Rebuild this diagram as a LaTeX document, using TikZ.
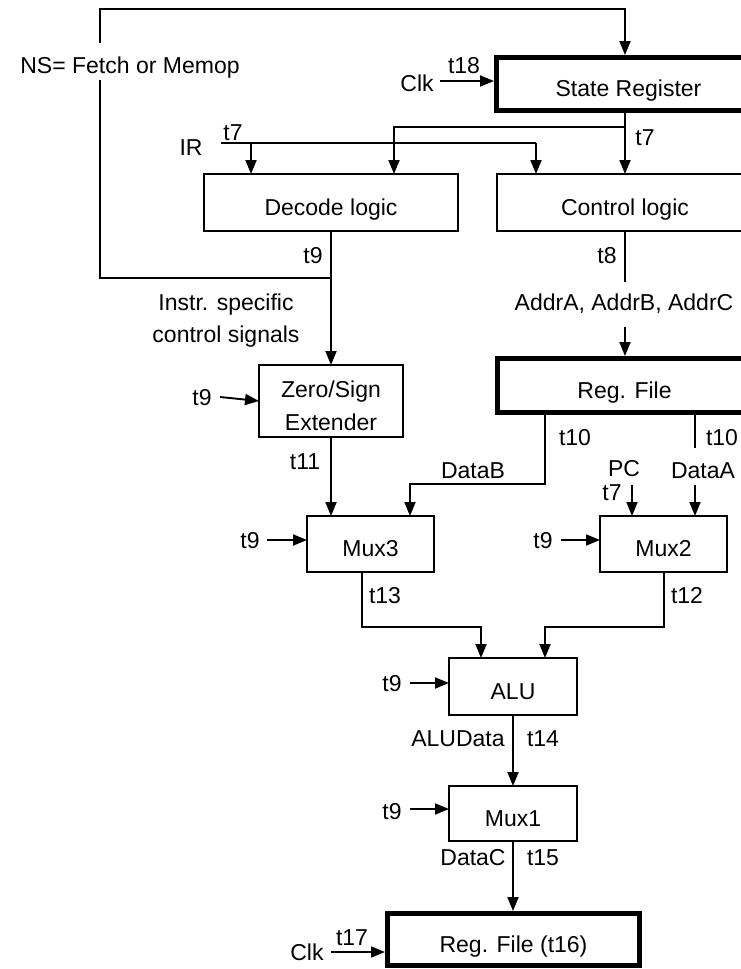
\documentclass[tikz,border=0pt]{standalone}
\usepackage{fontspec}
\setmainfont{Liberation Sans}
\usetikzlibrary{arrows.meta}
\begin{document}
\begin{tikzpicture}[x=1pt,y=-1pt,
  every node/.style={font=\fontsize{23}{28}\selectfont, inner sep=0pt, outer sep=0pt},
  lbl/.style={anchor=base},
  wire/.style={line width=1.9pt},
  sig/.style={wire, -{Triangle[length=14pt,width=11pt]}},
  blk/.style={draw, line width=1.9pt, text height=25pt, text depth=0pt},
  reg/.style={blk, line width=5pt}]
\useasboundingbox (0,0) rectangle (741,969);
\clip (0,0) rectangle (741,969);

% functional blocks
\node[reg, minimum width=264pt, minimum height=53pt] (sr)   at (628.5,84)    {State Register};
\node[blk, minimum width=254pt, minimum height=57pt] (dec)  at (331,202.5)   {Decode logic};
\node[blk, minimum width=256pt, minimum height=57pt] (ctl)  at (625,202.5)   {Control logic};
\node[blk, minimum width=144pt, minimum height=72pt] (zs)   at (331,401)     {};
\node[lbl] (zs1) at (331,397) {Zero/Sign};
\node[lbl] (zs2) at (331,430) {Extender};
\node[reg, minimum width=254pt, minimum height=54pt] (rf)   at (624.5,385.5) {Reg. File};
\node[blk, minimum width=127pt, minimum height=56pt] (mux3) at (370.5,544)   {Mux3};
\node[blk, minimum width=127pt, minimum height=56pt] (mux2) at (663.5,544)   {Mux2};
\node[blk, minimum width=128pt, minimum height=57pt] (alu)  at (513,686.5)   {ALU};
\node[blk, minimum width=128pt, minimum height=55pt] (mux1) at (513,813.5)   {Mux1};
\node[reg, minimum width=252pt, minimum height=52pt] (rf2)  at (513.5,939.5) {Reg. File (t16)};

% routing points
\coordinate (lpB) at (100,278);
\coordinate (lpT) at (100,9);
\coordinate (lpR) at (625,9);
\coordinate (irL) at (221,143);
\coordinate (irD) at (251,143);
\coordinate (irC) at (536,143);
\coordinate (brD) at (394,127);
\coordinate (adT) at (625,282);
\coordinate (adB) at (625,327);
\coordinate (rfB) at (545,484);
\coordinate (dbB) at (410,484);
\coordinate (daT) at (695,448);
\coordinate (daA) at (695,485);
\coordinate (pcA) at (632,485);
\coordinate (m3o) at (362,627);
\coordinate (m3a) at (481,627);
\coordinate (m2o) at (664,627);
\coordinate (m2a) at (545,627);
\coordinate (ck1) at (440,81);
\coordinate (ck2) at (331,952);
\coordinate (s9z) at (220,397);
\coordinate (s93) at (267,540);
\coordinate (s92) at (561,540);
\coordinate (s9a) at (410,683);
\coordinate (s91) at (410,809);

% next-state feedback loop
\draw[sig, shorten >=2.5pt] (dec.south |- lpB) -- (lpB) -- (lpT) -- (lpR) -- (lpR |- sr.north);
\node[lbl, fill=white, text height=30pt, text depth=7pt] (ns) at (130,73) {NS= Fetch or Memop};

% clocks
\draw[sig, shorten >=2.5pt] (ck1) -- (ck1 -| sr.west);
\node[lbl] (clk1) at (417,91) {Clk};
\node[lbl] (t18) at (464,73) {t18};
\draw[sig, shorten >=2.5pt] (ck2) -- (ck2 -| rf2.west);
\node[lbl] (clk2) at (307,960) {Clk};
\node[lbl] (t17) at (352,945) {t17};

% IR and state distribution
\draw[wire] (irL) -- (irC);
\draw[sig] (irD) -- (irD |- dec.north);
\draw[sig] (irC) -- (irC |- ctl.north);
\node[lbl] (ir) at (191,155) {IR};
\node[lbl] (t7a) at (233,140) {t7};
\draw[sig] (ctl.north |- sr.south) -- (ctl.north);
\draw[sig] (ctl.north |- brD) -- (brD) -- (brD |- dec.north);
\node[lbl] (t7b) at (645,145) {t7};

% decode path
\draw[sig] (dec.south) -- (zs.north);
\node[lbl] (t9d) at (313,263) {t9};
\node[lbl] (is1) at (226,310) {Instr. specific};
\node[lbl] (is2) at (226,342) {control signals};
\draw[sig] (s9z) -- (zs.west);
\node[lbl] (t9zs) at (202,405) {t9};

% control path to register file
\draw[wire] (ctl.south) -- (adT);
\draw[sig, shorten >=2.5pt] (adB) -- (adB |- rf.north);
\node[lbl] (t8) at (607,263) {t8};
\node[lbl] (addr) at (624,310) {AddrA, AddrB, AddrC};

% register file outputs
\draw[sig] (rfB |- rf.south) -- (rfB) -- (dbB) -- (dbB |- mux3.north);
\node[lbl] (t10a) at (575,445) {t10};
\node[lbl] (datab) at (473,478) {DataB};
\draw[wire] (daT |- rf.south) -- (daT);
\node[lbl] (t10b) at (722,445) {t10};
\node[lbl] (dataa) at (703,478) {DataA};
\draw[sig] (daA) -- (daA |- mux2.north);
\node[lbl] (pc) at (624,476) {PC};
\node[lbl] (t7c) at (612,500) {t7};
\draw[sig] (pcA) -- (pcA |- mux2.north);

% mux inputs
\draw[sig] (zs.south) -- (zs.south |- mux3.north);
\node[lbl] (t11) at (305,469) {t11};
\draw[sig] (s93) -- (s93 -| mux3.west);
\node[lbl] (t9m3) at (250,548) {t9};
\draw[sig] (s92) -- (s92 -| mux2.west);
\node[lbl] (t9m2) at (543,548) {t9};

% ALU operands
\draw[sig] (m3o |- mux3.south) -- (m3o) -- (m3a) -- (m3a |- alu.north);
\node[lbl] (t13) at (385,603) {t13};
\draw[sig] (m2o |- mux2.south) -- (m2o) -- (m2a) -- (m2a |- alu.north);
\node[lbl] (t12) at (687,603) {t12};
\draw[sig] (s9a) -- (s9a -| alu.west);
\node[lbl] (t9alu) at (392,691) {t9};

% write-back path
\draw[sig] (alu.south) -- (mux1.north);
\node[lbl] (aludata) at (458,746) {ALUData};
\node[lbl] (t14) at (543,746) {t14};
\draw[sig] (s91) -- (s91 -| mux1.west);
\node[lbl] (t9m1) at (392,819) {t9};
\draw[sig, shorten >=2.5pt] (mux1.south) -- (mux1.south |- rf2.north);
\node[lbl] (datac) at (473,865) {DataC};
\node[lbl] (t15) at (543,865) {t15};
\end{tikzpicture}
\end{document}
